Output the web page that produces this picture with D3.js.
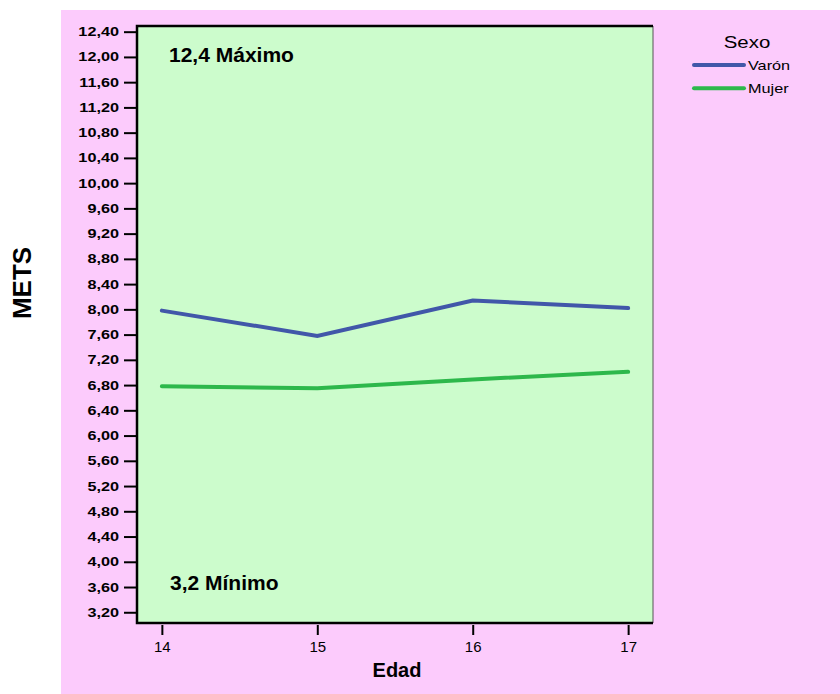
<!DOCTYPE html>
<html>
<head>
<meta charset="utf-8">
<script src="https://cdn.jsdelivr.net/npm/d3@7"></script>
<style>
  html, body { margin: 0; padding: 0; background: #ffffff; }
  svg { display: block; }
  text { font-family: Arial, "Liberation Sans", sans-serif; fill: #000; }
</style>
</head>
<body>
<svg id="chart" width="840" height="694"></svg>
<script>
// ---- data ----
const edades = [14, 15, 16, 17];
const varon = [7.98, 7.58, 8.14, 8.02];
const mujer = [6.78, 6.75, 6.89, 7.01];
const seriesNames = ["Varón", "Mujer"];
const seriesColors = ["#4157a9", "#2db84b"];
const yTicks = [3.2, 3.6, 4.0, 4.4, 4.8, 5.2, 5.6, 6.0, 6.4, 6.8, 7.2, 7.6, 8.0,
                8.4, 8.8, 9.2, 9.6, 10.0, 10.4, 10.8, 11.2, 11.6, 12.0, 12.4];
const yDomain = [3.03, 12.49];
const maxLabel = "12,4 Máximo";
const minLabel = "3,2 Mínimo";
const xTitle = "Edad";
const yTitle = "METS";
const legendTitle = "Sexo";

// ---- layout ----
const svg = d3.select("#chart");
const plot = { left: 137, right: 653, top: 26, bottom: 623 };

// page background (pink)
svg.append("rect").attr("x", 61).attr("y", 10).attr("width", 779).attr("height", 684)
  .attr("fill", "#fccbfc");

// plot background
svg.append("rect").attr("x", plot.left).attr("y", plot.top)
  .attr("width", plot.right - plot.left).attr("height", plot.bottom - plot.top)
  .attr("fill", "#ccfccc");

const x = d3.scalePoint().domain(edades).range([plot.left, plot.right]).padding(0.16);
const y = d3.scaleLinear().domain(yDomain).range([plot.bottom, plot.top]);

const fmt = v => d3.format(".2f")(v).replace(".", ",");

// y axis
const yAxis = svg.append("g").attr("transform", `translate(${plot.left},0)`)
  .call(d3.axisLeft(y).tickValues(yTicks).tickFormat(fmt).tickSize(13).tickPadding(5));
yAxis.select(".domain").remove();
yAxis.selectAll(".tick line").attr("stroke", "#000").attr("stroke-width", 2);
yAxis.selectAll(".tick text")
  .style("font-family", "Arial, 'Liberation Sans', sans-serif")
  .style("font-weight", "bold").style("font-size", "12.5px")
  .attr("transform", "translate(-18,0) scale(1.3,1) translate(18,0)");

// x axis
const xAxis = svg.append("g").attr("transform", `translate(0,${plot.bottom + 2})`)
  .call(d3.axisBottom(x).tickSize(10).tickPadding(6));
xAxis.select(".domain").remove();
xAxis.selectAll(".tick line").attr("stroke", "#000").attr("stroke-width", 2);
xAxis.selectAll(".tick text")
  .style("font-family", "Arial, 'Liberation Sans', sans-serif")
  .style("font-size", "15px");

// frame
svg.append("line").attr("x1", plot.right).attr("x2", plot.right)
  .attr("y1", plot.top).attr("y2", plot.bottom).attr("stroke", "#555").attr("stroke-width", 1);
svg.append("path")
  .attr("d", `M${plot.right},${plot.top}H${plot.left}V${plot.bottom}H${plot.right}`)
  .attr("fill", "none").attr("stroke", "#000").attr("stroke-width", 2.5);

// lines
const line = d3.line().x((d, i) => x(edades[i])).y(d => y(d));
[varon, mujer].forEach((vals, k) => {
  svg.append("path").datum(vals).attr("d", line)
    .attr("fill", "none").attr("stroke", seriesColors[k]).attr("stroke-width", 4)
    .attr("stroke-linecap", "round").attr("stroke-linejoin", "miter");
});

// annotations
svg.append("text").attr("x", 169).attr("y", 62).text(maxLabel)
  .style("font-weight", "bold").style("font-size", "21px");
svg.append("text").attr("x", 170).attr("y", 590).text(minLabel)
  .style("font-weight", "bold").style("font-size", "21px");

// axis titles
svg.append("text").attr("x", 397).attr("y", 677).attr("text-anchor", "middle")
  .text(xTitle).style("font-weight", "bold").style("font-size", "20px");
svg.append("text").attr("transform", "translate(31,283) rotate(-90)")
  .attr("text-anchor", "middle").text(yTitle)
  .style("font-weight", "bold").style("font-size", "26px");

// legend
svg.append("g").attr("transform", "translate(747,48) scale(1.2,1)")
  .append("text").attr("text-anchor", "middle").text(legendTitle)
  .style("font-size", "17px");
seriesNames.forEach((name, k) => {
  const ly = 65 + k * 23.3;
  svg.append("line").attr("x1", 694).attr("x2", 744).attr("y1", ly).attr("y2", ly)
    .attr("stroke", seriesColors[k]).attr("stroke-width", 4).attr("stroke-linecap", "round");
  svg.append("g").attr("transform", `translate(748,${ly + 5}) scale(1.3,1)`)
    .append("text").text(name).style("font-size", "12.5px");
});
</script>
</body>
</html>
